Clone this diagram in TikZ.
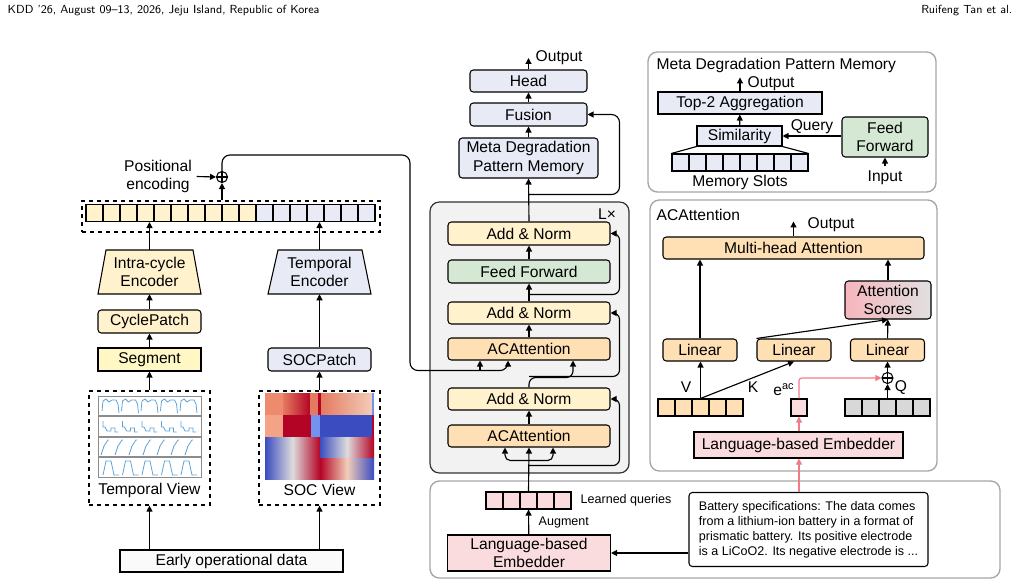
\documentclass[tikz,border=0pt]{standalone}
\usepackage{fontspec}
\setmainfont{Liberation Sans}
\usetikzlibrary{arrows.meta,calc}
\definecolor{cyel}{HTML}{FFF2CC}
\definecolor{cseg}{HTML}{FFF7C4}
\definecolor{clav}{HTML}{E8EAF6}
\definecolor{cgrn}{HTML}{D5E8D4}
\definecolor{corg}{HTML}{FFE0B4}
\definecolor{cpnk}{HTML}{FADCDF}
\definecolor{cparr}{HTML}{F07C88}
\definecolor{cgq}{HTML}{D8D8D8}
\definecolor{cplot}{HTML}{5DA3D8}
\definecolor{hmred}{HTML}{B40426}
\definecolor{hmblue}{HTML}{3B4CC0}
\definecolor{hmmid}{HTML}{DDDCDC}
\definecolor{hmsal}{HTML}{EE8A6E}
\definecolor{hmsalb}{HTML}{F4A387}
\definecolor{hmsalc}{HTML}{E47A60}
\definecolor{hmlight}{HTML}{F2CDB8}
\definecolor{hmlblue}{HTML}{7393F0}
\begin{document}
\begin{tikzpicture}[x=0.75pt,y=-0.75pt,font=\fontsize{11.7}{14}\selectfont,
  >={Triangle[length=4.5pt,width=4.5pt]},
  wh/.style 2 args={minimum width=#1*0.75pt,minimum height=#2*0.75pt},
  box/.style={draw,line width=0.8pt,inner sep=0pt},
  rbox/.style={box,rounded corners=2.5pt},
  tokcell/.style={draw,line width=0.8pt,minimum width=17*0.75pt,minimum height=17*0.75pt,inner sep=0pt},
  arr/.style={->,line width=0.85pt},
  parr/.style={->,line width=0.85pt,cparr},
  dbox/.style={draw,dashed,line width=0.9pt,inner sep=0pt},
  panel/.style={draw=black!35,line width=1pt,rounded corners=7pt,fill=white,inner sep=0pt},
  smalltxt/.style={font=\fontsize{9.4}{11.3}\selectfont},
  oplus/.style={circle,draw,line width=0.8pt,minimum size=11*0.75pt,inner sep=0pt,
    path picture={\draw[line width=0.8pt] (path picture bounding box.north) -- (path picture bounding box.south)
      (path picture bounding box.west) -- (path picture bounding box.east);}}]
  \useasboundingbox (0,0) rectangle (1020,585);
  % page header
  \node[anchor=west,font=\sffamily\fontsize{8.8}{10}\selectfont] (hdl) at (3,11) {KDD ’26, August 09–13, 2026, Jeju Island, Republic of Korea};
  \node[anchor=east,font=\sffamily\fontsize{8.8}{10}\selectfont] (hdr) at (1017,11) {Ruifeng Tan et al.};

  % panels
  \node[panel,wh={570}{97}] (qpanel) at (715,529.5) {};
  \node[panel,wh={288}{140}] (mpanel) at (792,122) {};
  \node[panel,wh={287}{271}] (apanel) at (793.5,335.5) {};
  \node[draw=black!80,fill=black!5,line width=0.9pt,rounded corners=7pt,inner sep=0pt,wh={199}{271}] (lblk) at (529.5,337.5) {};
  \node (lx) at (607,214) {L×};

  % left branch
  \node[dbox,wh={298}{31}] (tokbox) at (231,216.5) {};
  \foreach \i in {0,...,16}{
    \ifnum\i<10 \def\c{cyel}\else\def\c{clav}\fi
    \node[tokcell,fill=\c] (tok\i) at (94.5+17*\i,213) {};
  }
  \node[align=center] (posenc) at (158,176.5) {Positional\\encoding};
  \node[oplus] (plus1) at (222,177) {};
  \filldraw[fill=cyel,line width=0.8pt] (98,294) -- (201,294) -- (193,250) -- (106,250) -- cycle;
  \node[align=center,wh={103}{44}] (intra) at (149.5,272) {Intra-cycle\\Encoder};
  \filldraw[fill=clav,line width=0.8pt] (268,294) -- (371,294) -- (362,250) -- (278,250) -- cycle;
  \node[align=center,wh={103}{44}] (tenc) at (319.5,272) {Temporal\\Encoder};
  \node[rbox,fill=cyel,wh={103}{23}] (cycp) at (149.5,321.5) {CyclePatch};
  \node[box,fill=cseg,wh={103}{23}] (seg) at (149.5,359.5) {Segment};
  \node[rbox,fill=clav,wh={103}{23}] (socp) at (319.5,359.5) {SOCPatch};
  \node[dbox,wh={121}{114}] (tview) at (149.5,448) {};
  \node (tvlab) at (149.5,490) {Temporal View};
  \node[dbox,wh={121}{114}] (sview) at (319.5,448) {};
  \node (svlab) at (319.5,490) {SOC View};
  \node[box,fill=black!2,wh={223}{22}] (early) at (231.5,561) {Early operational data};

  % temporal view curves
  \foreach \t in {396,416.5,437,457.5}
    \draw[black!45,line width=0.6pt] (98,\t) rectangle ++(103,19.5);
  \foreach \k in {0,...,4}{
    \pgfmathsetmacro\cx{102+19.5*\k}
    \draw[cplot,line width=0.6pt] (\cx,411) -- (\cx+1,401) -- (\cx+4,399) -- (\cx+7,402) -- (\cx+10,400) -- (\cx+14,400) -- (\cx+16,404) -- (\cx+17,413);
    \draw[cplot,line width=0.6pt] (\cx+1,421) -- (\cx+1,427) -- (\cx+3,427) -- (\cx+5,431) -- (\cx+9,431) -- (\cx+9,428) -- (\cx+13,428) -- (\cx+13,432) -- (\cx+16,432);
    \draw[cplot,line width=0.6pt] (\cx+1,475) -- (\cx+4,461) -- (\cx+9,461) -- (\cx+12,475) -- (\cx+17,475);
  }
  \foreach \k in {0,...,6}{
    \pgfmathsetmacro\cx{101+14*\k}
    \draw[cplot,line width=0.6pt] (\cx,455) -- (\cx+3,446) -- (\cx+7,440) -- (\cx+8,440);
  }

  % SOC view heat map
  \fill[hmsal] (265,393) rectangle (283,415);
  \shade[left color=hmsalc,right color=hmred] (283,393) rectangle (310,415);
  \fill[hmsalc] (310,393) rectangle (318,415);
  \fill[hmred] (318,393) rectangle (321,415);
  \shade[left color=hmsalc,right color=hmlight] (321,393) rectangle (372,415);
  \fill[hmlblue] (372,393) rectangle (374,415);
  \fill[hmsalb] (265,415) rectangle (283,437);
  \fill[hmred] (283,415) rectangle (311,437);
  \fill[hmlblue] (311,415) rectangle (320,437);
  \fill[hmblue] (320,415) rectangle (372,437);
  \fill[hmred] (372,415) rectangle (374,437);
  \shade[left color=hmblue,right color=hmred,middle color=hmmid] (265,437) rectangle (320,479);
  \shade[left color=hmblue,right color=hmred,middle color=hmmid] (320,437) rectangle (374,458);
  \shade[left color=hmred,right color=hmblue,middle color=hmlight] (320,458) rectangle (374,479);

  \draw[arr] (early.north -| tview) -- (tview.south);
  \draw[arr] (early.north -| sview) -- (sview.south);
  \draw[arr] (tview.north) -- (seg.south);
  \draw[arr] (seg) -- (cycp);
  \draw[arr] (cycp) -- (intra.south);
  \draw[arr] (intra.north) -- (intra.north |- tok0.south);
  \draw[arr] (sview.north) -- (socp.south);
  \draw[arr] (socp) -- (tenc.south);
  \draw[arr] (tenc.north) -- (tenc.north |- tok0.south);
  \draw[arr] (posenc.east) -- (plus1.west);
  \draw[arr] (tokbox.north -| plus1) -- (plus1.south);

  % middle column
  \node[rbox,fill=clav,wh={117}{22}] (head) at (528.5,81) {Head};
  \node[anchor=west] (out1) at (531,58) {Output};
  \node[rbox,fill=clav,wh={117}{23}] (fusion) at (528.5,114.5) {Fusion};
  \node[rbox,fill=clav,align=center,wh={139}{40}] (meta) at (528.5,158) {Meta Degradation\\Pattern Memory};
  \node[rbox,fill=cyel,wh={162}{23}] (an3) at (529,233.5) {Add \& Norm};
  \node[rbox,fill=cgrn,wh={162}{23}] (ff) at (529,271.5) {Feed Forward};
  \node[rbox,fill=cyel,wh={162}{22}] (an2) at (529,313) {Add \& Norm};
  \node[rbox,fill=corg,wh={162}{22}] (acat2) at (529,349) {ACAttention};
  \node[rbox,fill=cyel,wh={162}{22}] (an1) at (529,399) {Add \& Norm};
  \node[rbox,fill=corg,wh={162}{22}] (acat1) at (529,436) {ACAttention};

  \draw[arr] (head.north) -- (head.north |- out1.west);
  \draw[arr] (fusion) -- (head);
  \draw[arr] (meta) -- (fusion);
  \draw[arr] (an3.north) -- (meta.south);
  \draw[arr,rounded corners=6pt] ($(meta.south)+(0,16)$) -| ($(fusion.east)+(32,0)$) -- (fusion.east);
  \draw[arr] (ff) -- (an3);
  \draw[arr] (an2) -- (ff);
  \draw[arr,rounded corners=5pt] ($(an2.north)+(0,-7)$) -| ($(an3.east)+(9,0)$) -- (an3.east);
  \draw[arr] (acat2) -- (an2);
  \draw[arr,rounded corners=5pt] (an1.north) |- ($(acat2.south)+(44,17)$) -- ($(acat2.south)+(44,0)$);
  \draw[arr,rounded corners=5pt] ($(an1.north)+(0,-11)$) -| ($(an2.east)+(9,0)$) -- (an2.east);
  \draw[arr] (acat1) -- (an1);
  \draw[arr,rounded corners=6pt] (plus1.north) |- (410,155) |- ($(acat2.south)+(-21,10)$) -- ($(acat2.south)+(-21,0)$);
  \draw[arr] ($(acat2.south)+(-49,10)$) -- ($(acat2.south)+(-49,0)$);

  % learned queries
  \foreach \i in {0,...,4}
    \node[tokcell,fill=cpnk] (lrn\i) at (494.5+17*\i,500.5) {};
  \node[anchor=west,smalltxt] (lrnlab) at (576,500) {Learned queries};
  \node[box,fill=cpnk,align=center,wh={163}{36}] (lemb1) at (529,553) {Language-based\\Embedder};
  \node[anchor=west,smalltxt] (aug) at (534,522) {Augment};
  \node[rbox,smalltxt,align=left,inner sep=4pt,wh={239}{74}] (spec) at (808.5,529.5) {Battery specifications: The data comes\\from a lithium-ion battery in a format of\\prismatic battery. Its positive electrode\\is a LiCoO2. Its negative electrode is ...};
  \draw[arr] (lemb1) -- (lrn2.south);
  \draw[arr] (spec.west |- lemb1.east) -- (lemb1.east);
  \draw[arr] (lrn2.north) -- (acat1.south);
  \draw[arr,rounded corners=4pt] ($(acat1.south)+(0,13)$) -| ($(acat1.south)+(-24,0)$);
  \draw[arr,rounded corners=4pt] ($(acat1.south)+(0,13)$) -| ($(acat1.south)+(24,0)$);
  \draw[arr,rounded corners=5pt] ($(acat1.south)+(0,18)$) -| ($(an1.east)+(9,0)$) -- (an1.east);

  % meta degradation pattern memory
  \node[anchor=west] (mtitle) at (652,65) {Meta Degradation Pattern Memory};
  \node[box,fill=clav,wh={164}{22}] (top2) at (740,103) {Top-2 Aggregation};
  \node[anchor=west] (mout) at (743,84) {Output};
  \node[box,fill=clav,wh={85}{20}] (sim) at (739.5,136) {Similarity};
  \foreach \i in {0,...,7}
    \node[tokcell,fill=clav] (ms\i) at (680.5+17*\i,162.5) {};
  \node (mslab) at (740,182) {Memory Slots};
  \node[rbox,fill=cgrn,align=center,wh={86}{40}] (mff) at (885,137) {Feed\\Forward};
  \node (minput) at (885,178) {Input};
  \node (mquery) at (812,127) {Query};
  \draw[line width=0.85pt] (sim.south west) -- (ms0.north west);
  \draw[line width=0.85pt] (sim.south east) -- (ms7.north east);
  \draw[arr] (sim) -- (top2);
  \draw[arr] (top2.north) -- ($(top2.north)+(0,-14)$);
  \draw[arr] (mff.west |- sim.east) -- (sim.east);
  \draw[arr] (minput.north) -- (mff.south);

  % ACAttention
  \node[anchor=west] (atitle) at (652,215) {ACAttention};
  \node[rbox,fill=corg,wh={261}{22}] (mha) at (793.5,248) {Multi-head Attention};
  \node[anchor=west] (aout) at (803,225) {Output};
  \node[rbox,left color=cpnk!60!cparr,right color=black!12,align=center,wh={86}{38}] (ascore) at (888,300) {Attention\\Scores};
  \node[rbox,fill=corg,wh={74}{22}] (linv) at (700,350) {Linear};
  \node[rbox,fill=corg,wh={74}{22}] (link) at (794,350) {Linear};
  \node[rbox,fill=corg,wh={74}{22}] (linq) at (887.5,350) {Linear};
  \foreach \i in {0,...,4}{
    \node[tokcell,fill=corg] (vk\i) at (666.5+17*\i,407.5) {};
    \node[tokcell,fill=cgq] (qt\i) at (853.5+17*\i,407.5) {};
  }
  \node[tokcell,minimum width=16*0.75pt,fill=cpnk] (eac) at (799,407.5) {};
  \node[oplus] (plus2) at (887.5,378) {};
  \node (labv) at (686,387) {V};
  \node (labk) at (753,387) {K};
  \node[anchor=east] (labe) at (799,390) {e\textsuperscript{ac}};
  \node (labq) at (901,388) {Q};
  \node[box,fill=cpnk,wh={209}{26}] (lemb2) at (798.5,445) {Language-based Embedder};
  \draw[arr] (mha.north) -- ($(mha.north)+(0,-15)$);
  \draw[arr] (linv.north) -- (linv.north |- mha.south);
  \draw[arr] (ascore.north) -- (ascore.north |- mha.south);
  \draw[arr] (link.north west) -- (ascore.south);
  \draw[arr] (linq) -- (ascore);
  \draw[arr] (vk2.north) -- (vk2.north |- linv.south);
  \draw[arr] (vk2.north) -- (link.south);
  \draw[arr] (qt2.north) -- (plus2.south);
  \draw[arr] (plus2.north) -- (linq.south);
  \draw[parr,rounded corners=2pt] (eac.north) |- (plus2.west);
  \draw[parr] (eac.south |- lemb2.north) -- (eac.south);
  \draw[parr] (eac.south |- spec.north) -- (eac.south |- lemb2.south);
\end{tikzpicture}
\end{document}
